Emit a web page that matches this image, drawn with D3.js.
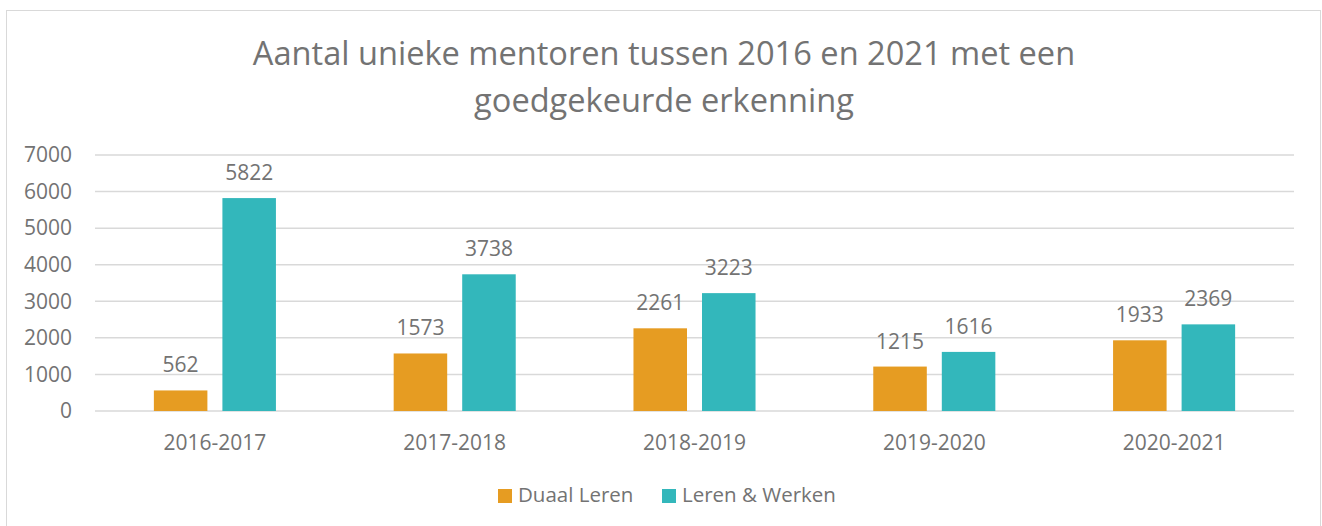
<!DOCTYPE html>
<html>
<head>
<meta charset="utf-8">
<script src="https://cdn.jsdelivr.net/npm/d3@7"></script>
<style>
  html, body { margin: 0; padding: 0; background: #fff; }
  svg { display: block; }
  text { font-family: "Open Sans", sans-serif; fill: #737373; }
</style>
</head>
<body>
<svg id="chart" width="1322" height="526"></svg>
<script>
// Academic years shown on the x axis
const years = ["2016-2017", "2017-2018", "2018-2019", "2019-2020", "2020-2021"];
// Series names
const seriesNames = ["Duaal Leren", "Leren & Werken"];
// Number of unique mentors per year
const duaalLeren = [562, 1573, 2261, 1215, 1933];
const lerenWerken = [5822, 3738, 3223, 1616, 2369];
// Y axis ticks
const yTicks = [0, 1000, 2000, 3000, 4000, 5000, 6000, 7000];
const titleLines = ["Aantal unieke mentoren tussen 2016 en 2021 met een", "goedgekeurde erkenning"];

const colors = { "Duaal Leren": "#E69C22", "Leren & Werken": "#33B7BB" };
const seriesValues = { "Duaal Leren": duaalLeren, "Leren & Werken": lerenWerken };

const svg = d3.select("#chart");

// Outer chart border
svg.append("rect")
  .attr("x", 6.5).attr("y", 10.5)
  .attr("width", 1314).attr("height", 530)
  .attr("fill", "none").attr("stroke", "#d9d9d9").attr("stroke-width", 1);

// Title
svg.append("g").selectAll("text")
  .data(titleLines)
  .join("text")
  .attr("x", 664)
  .attr("y", (d, i) => 65 + i * 47)
  .attr("text-anchor", "middle")
  .style("font-size", "32.6px")
  .text(d => d);

const plot = { left: 95, right: 1294, top: 155, bottom: 411 };

const x0 = d3.scaleBand()
  .domain(years)
  .range([plot.left, plot.right])
  .paddingInner(0.491)
  .paddingOuter(0.2455);

const x1 = d3.scaleBand()
  .domain(seriesNames)
  .range([0, x0.bandwidth()])
  .paddingInner(0.219)
  .paddingOuter(0);

const y = d3.scaleLinear()
  .domain([0, 7000])
  .range([plot.bottom, plot.top]);

// Gridlines
svg.append("g").selectAll("line")
  .data(yTicks)
  .join("line")
  .attr("x1", plot.left).attr("x2", plot.right)
  .attr("y1", d => y(d)).attr("y2", d => y(d))
  .attr("stroke", "#d9d9d9").attr("stroke-width", 1.5);

// Y axis labels
const yAxis = svg.append("g")
  .attr("transform", `translate(${plot.left - 23},0)`)
  .call(d3.axisLeft(y).tickValues(yTicks).tickSize(0).tickPadding(0).tickFormat(d3.format("d")));
yAxis.select(".domain").remove();
yAxis.selectAll("text")
  .style("font-size", "21px")
  .attr("fill", null);

// X axis labels
const xAxis = svg.append("g")
  .attr("transform", `translate(0,${plot.bottom})`)
  .call(d3.axisBottom(x0).tickSize(0).tickPadding(24));
xAxis.select(".domain").remove();
xAxis.selectAll("text")
  .style("font-size", "21px")
  .attr("fill", null);

// Bars and value labels
const groups = svg.append("g").selectAll("g")
  .data(years)
  .join("g")
  .attr("transform", d => `translate(${x0(d)},0)`);

const barData = (yr, i) => seriesNames.map(s => ({ series: s, value: seriesValues[s][i] }));

groups.each(function (yr, i) {
  const g = d3.select(this);
  const rows = barData(yr, i);
  g.selectAll("rect")
    .data(rows)
    .join("rect")
    .attr("x", d => x1(d.series))
    .attr("width", x1.bandwidth())
    .attr("y", d => y(d.value))
    .attr("height", d => y(0) - y(d.value))
    .attr("fill", d => colors[d.series]);
  g.selectAll("text")
    .data(rows)
    .join("text")
    .attr("x", d => x1(d.series) + x1.bandwidth() / 2)
    .attr("y", d => y(d.value) - 18)
    .attr("text-anchor", "middle")
    .style("font-size", "21px")
    .text(d => d.value);
});

// Legend
const legendItems = [
  { name: seriesNames[0], x: 498 },
  { name: seriesNames[1], x: 662 }
];
const legend = svg.append("g").selectAll("g")
  .data(legendItems)
  .join("g")
  .attr("transform", d => `translate(${d.x},489)`);
legend.append("rect")
  .attr("width", 14).attr("height", 14)
  .attr("fill", d => colors[d.name]);
legend.append("text")
  .attr("x", 20).attr("y", 13)
  .style("font-size", "20.5px")
  .text(d => d.name);
</script>
</body>
</html>
